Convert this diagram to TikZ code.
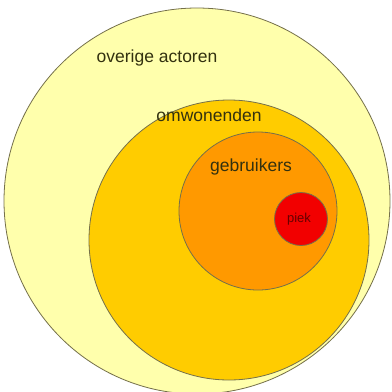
\documentclass[tikz,border=0pt]{standalone}
\usepackage{fontspec}
\setmainfont{Liberation Sans}
\definecolor{paleyellow}{HTML}{FFFFAC}
\definecolor{goldyellow}{HTML}{FFCC00}
\definecolor{darkorange}{HTML}{FF9900}
\definecolor{brightred}{HTML}{F20000}
\definecolor{rimgray}{HTML}{75704A}
\definecolor{inkolive}{HTML}{33310F}
\begin{document}
\begin{tikzpicture}[x=1pt, y=-1pt, font=\fontsize{17.5}{20}\selectfont]
  \useasboundingbox[fill=white] (0,0) rectangle (392,392);
  % Circles
  \node[draw=rimgray, line width=0.8pt, circle, inner sep=0pt, fill=paleyellow, minimum size=386pt] (overige) at (197,201) {};
  \node[draw=rimgray, line width=0.8pt, circle, inner sep=0pt, fill=goldyellow, minimum size=280pt] (omwonenden) at (229,240) {};
  \node[draw=rimgray, line width=0.8pt, circle, inner sep=0pt, fill=darkorange, minimum size=158pt] (gebruikers) at (258,211) {};
  \node[draw=rimgray, line width=0.8pt, circle, inner sep=0pt, fill=brightred, minimum size=53pt] (piek) at (301,219) {};

  % Labels
  \node[text=inkolive] (overigetxt) at (157,58) {overige actoren};
  \node[text=inkolive] (omwonendentxt) at (209,115) {omwonenden};
  \node[text=inkolive] (gebruikerstxt) at (251,167) {gebruikers};
  \node[text=red!40!black, font=\fontsize{13}{15}\selectfont] (piektxt) at (299,219) {piek};
\end{tikzpicture}
\end{document}
